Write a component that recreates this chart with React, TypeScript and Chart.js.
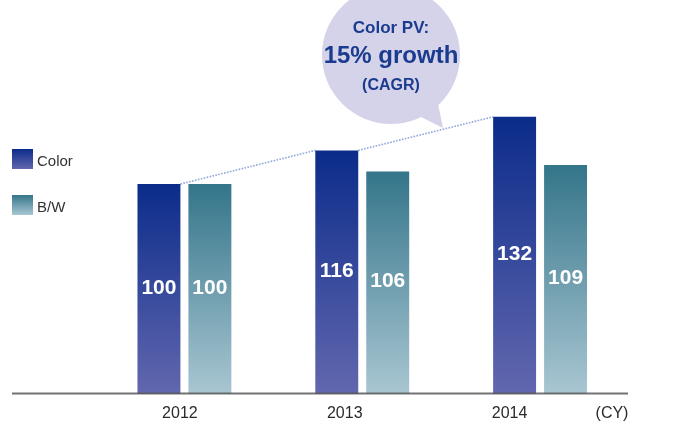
import React, { useEffect, useRef } from "react";
import { Chart, registerables } from "chart.js";

Chart.register(...registerables);

const categories = ["2012", "2013", "2014"];
const colorValues = [100, 116, 132];
const bwValues = [100, 106, 109];
const seriesNames = ["Color", "B/W"];
const unitLabel = "(CY)";
const bubbleLines = ["Color PV:", "15% growth", "(CAGR)"];

const FONT = '"Liberation Sans", Arial, Helvetica, sans-serif';
const GRADS = [
  ["#0b2c8a", "#6267ae"],
  ["#34758a", "#a9c6d2"],
];

function barGradient(ctx: any, dsIndex: number) {
  const chart = ctx.chart;
  const y = chart.scales?.y;
  if (!y || !chart.chartArea) return GRADS[dsIndex][0];
  const v = ctx.raw as number;
  const top = y.getPixelForValue(v);
  const bottom = y.getPixelForValue(0);
  const g = chart.ctx.createLinearGradient(0, top, 0, bottom);
  g.addColorStop(0, GRADS[dsIndex][0]);
  g.addColorStop(1, GRADS[dsIndex][1]);
  return g;
}

const decorPlugin = {
  id: "decor",
  beforeDatasetsDraw(chart: any) {
    const ctx = chart.ctx;
    const meta = chart.getDatasetMeta(0);
    ctx.save();
    ctx.strokeStyle = "#8fa6dc";
    ctx.lineWidth = 1.6;
    ctx.setLineDash([1.6, 1.4]);
    for (let i = 0; i < meta.data.length - 1; i++) {
      const a = meta.data[i];
      const b = meta.data[i + 1];
      ctx.beginPath();
      ctx.moveTo(a.x + a.width / 2, a.y);
      ctx.lineTo(b.x - b.width / 2, b.y);
      ctx.stroke();
    }
    ctx.restore();
  },
  afterDatasetsDraw(chart: any) {
    const ctx = chart.ctx;
    const area = chart.chartArea;
    const xs = chart.scales.x;
    ctx.save();
    // value labels
    ctx.fillStyle = "#ffffff";
    ctx.font = `bold 21px ${FONT}`;
    ctx.textAlign = "center";
    ctx.textBaseline = "middle";
    chart.data.datasets.forEach((ds: any, di: number) => {
      const meta = chart.getDatasetMeta(di);
      meta.data.forEach((bar: any, i: number) => {
        const mid = (bar.y + bar.base) / 2 - 1;
        ctx.fillText(String(ds.data[i]), bar.x, mid);
      });
    });
    // baseline
    ctx.strokeStyle = "rgba(90,90,90,0.85)";
    ctx.lineWidth = 2;
    ctx.beginPath();
    ctx.moveTo(12, area.bottom - 0.5);
    ctx.lineTo(area.right - 1, area.bottom - 0.5);
    ctx.stroke();
    // category labels
    ctx.fillStyle = "#2a2a2a";
    ctx.font = `16px ${FONT}`;
    categories.forEach((c, i) => {
      const x = xs.getPixelForValue(i) - 4.5 - i * 13;
      ctx.fillText(c, x, 414);
    });
    ctx.fillText(unitLabel, 612, 414);
    // legend
    chart.data.datasets.forEach((ds: any, di: number) => {
      const top = 149 + di * 46;
      const g = ctx.createLinearGradient(0, top, 0, top + 20);
      g.addColorStop(0, GRADS[di][0]);
      g.addColorStop(1, GRADS[di][1]);
      ctx.fillStyle = g;
      ctx.fillRect(12, top, 21, 20);
      ctx.fillStyle = "#333333";
      ctx.font = `15px ${FONT}`;
      ctx.textAlign = "left";
      ctx.fillText(ds.label, 37, top + 13);
    });
    // bubble
    const cx = 391, cy = 55, r = 69;
    ctx.fillStyle = "#d5d3ea";
    ctx.beginPath();
    ctx.arc(cx, cy, r, 0, Math.PI * 2);
    ctx.fill();
    ctx.beginPath();
    ctx.moveTo(419, 116);
    ctx.lineTo(438, 104);
    ctx.lineTo(443, 128);
    ctx.closePath();
    ctx.fill();
    ctx.fillStyle = "#1a3b8e";
    ctx.textAlign = "center";
    ctx.font = `bold 17px ${FONT}`;
    ctx.fillText(bubbleLines[0], cx, 28);
    ctx.font = `bold 24px ${FONT}`;
    ctx.fillText(bubbleLines[1], cx, 56);
    ctx.font = `bold 16px ${FONT}`;
    ctx.fillText(bubbleLines[2], cx, 86);
    ctx.restore();
  },
};

export default function App() {
  const ref = useRef<HTMLCanvasElement>(null);
  useEffect(() => {
    if (!ref.current) return;
    const chart = new Chart(ref.current, {
      type: "bar",
      data: {
        labels: categories,
        datasets: [
          {
            label: seriesNames[0],
            data: colorValues,
            backgroundColor: (c: any) => barGradient(c, 0),
            categoryPercentage: 0.573,
            barPercentage: 0.843,
          },
          {
            label: seriesNames[1],
            data: bwValues,
            backgroundColor: (c: any) => barGradient(c, 1),
            categoryPercentage: 0.573,
            barPercentage: 0.843,
          },
        ],
      },
      options: {
        animation: false,
        responsive: false,
        layout: { padding: { left: 95.5, right: 53, top: 79, bottom: 30 } },
        scales: {
          x: { display: false },
          y: { display: false, min: 0, max: 150 },
        },
        plugins: {
          legend: { display: false },
          tooltip: { enabled: false },
        },
      },
      plugins: [decorPlugin],
    });
    return () => chart.destroy();
  }, []);
  return (
    <div style={{ position: "fixed", left: 0, top: 0, width: 682, height: 424, background: "#fff" }}>
      <canvas ref={ref} width={682} height={424} style={{ display: "block", width: 682, height: 424 }} />
    </div>
  );
}
